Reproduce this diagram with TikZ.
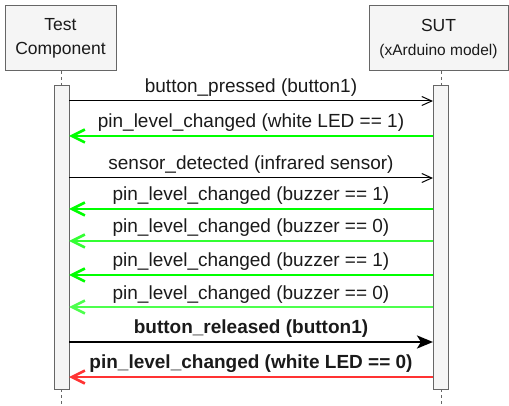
\documentclass[tikz,border=0pt]{standalone}
\usepackage{fontspec}
\setmainfont{Liberation Sans}
\usetikzlibrary{arrows.meta}
\definecolor{txt}{HTML}{1A1A1A}
\definecolor{boxfill}{HTML}{F5F5F5}
\definecolor{boxline}{HTML}{666666}
\definecolor{gA}{HTML}{00FF00}
\definecolor{gB}{HTML}{33FF33}
\definecolor{gC}{HTML}{4DFF4D}
\definecolor{redm}{HTML}{FF3333}
\tikzset{
  actor/.style={draw=boxline, fill=boxfill, line width=1pt, text=txt, align=center, inner sep=0pt},
  bar/.style={draw=boxline, fill=boxfill, line width=1pt},
  life/.style={draw=boxline, line width=1pt, dash pattern=on 3pt off 3pt},
  lbl/.style={text=txt, anchor=base, inner sep=0pt, font=\fontsize{19}{20}\selectfont},
  blbl/.style={lbl, font=\fontsize{19}{20}\selectfont\bfseries},
  msgthin/.style={draw=black, line width=1pt, -{Straight Barb[length=10pt,width=9pt,line width=1pt]}},
  msggreen/.style={line width=2.6pt, -{Straight Barb[length=13pt,width=13pt,line width=2.6pt]}},
  msgbold/.style={draw=black, line width=2.6pt, -{Stealth[length=16pt,width=13pt,inset=4pt]}},
}
\begin{document}
\begin{tikzpicture}[x=1pt,y=-1pt]
\useasboundingbox (0,0) rectangle (509,406);
% actors
\node[actor, minimum width=111pt, minimum height=65pt, font=\fontsize{17.5}{24}\selectfont] (tc) at (60.5,38.5) {Test\\Component};
\node[actor, minimum width=139pt, minimum height=65pt, font=\fontsize{17.5}{24}\selectfont] (sut) at (438.5,38.5) {SUT\\{\fontsize{15.5}{24}\selectfont (xArduino model)}};
% frame of the actor boxes kept at their places
% lifelines
\coordinate (lt1) at (61,71); \coordinate (lt2) at (61,86);
\coordinate (lb1) at (61,389); \coordinate (lb2) at (61,406);
\coordinate (rt1) at (441,71); \coordinate (rt2) at (441,86);
\coordinate (rb1) at (441,389); \coordinate (rb2) at (441,406);
\draw[life] (lt1) -- (lt2);
\draw[life] (lb1) -- (lb2);
\draw[life] (rt1) -- (rt2);
\draw[life] (rb1) -- (rb2);
% activation bars
\draw[bar] (54,86) rectangle (69,389);
\draw[bar] (433,86) rectangle (448,389);
% message end points
\foreach \n/\y in {1/101,2/136,3/178,4/209,5/241,6/275,7/307,8/342,9/377}{
  \coordinate (L\n) at (69,\y);
  \coordinate (R\n) at (433,\y);
}
% messages
\draw[msgthin] (L1) -- (R1);
\node[lbl] (m1) at (251,93) {button\_pressed (button1)};
\draw[msggreen, draw=gA] (R2) -- (L2);
\node[lbl] (m2) at (251,128) {pin\_level\_changed (white LED == 1)};
\draw[msgthin] (L3) -- (R3);
\node[lbl] (m3) at (251,170) {sensor\_detected (infrared sensor)};
\draw[msggreen, draw=gA] (R4) -- (L4);
\node[lbl] (m4) at (251,201) {pin\_level\_changed (buzzer == 1)};
\draw[msggreen, draw=gB] (R5) -- (L5);
\node[lbl] (m5) at (251,233) {pin\_level\_changed (buzzer == 0)};
\draw[msggreen, draw=gA] (R6) -- (L6);
\node[lbl] (m6) at (251,267) {pin\_level\_changed (buzzer == 1)};
\draw[msggreen, draw=gC] (R7) -- (L7);
\node[lbl] (m7) at (251,299) {pin\_level\_changed (buzzer == 0)};
\draw[msgbold] (L8) -- (R8);
\node[blbl] (m8) at (251,333) {button\_released (button1)};
\draw[msggreen, draw=redm] (R9) -- (L9);
\node[blbl] (m9) at (251,368) {pin\_level\_changed (white LED == 0)};
\end{tikzpicture}
\end{document}
